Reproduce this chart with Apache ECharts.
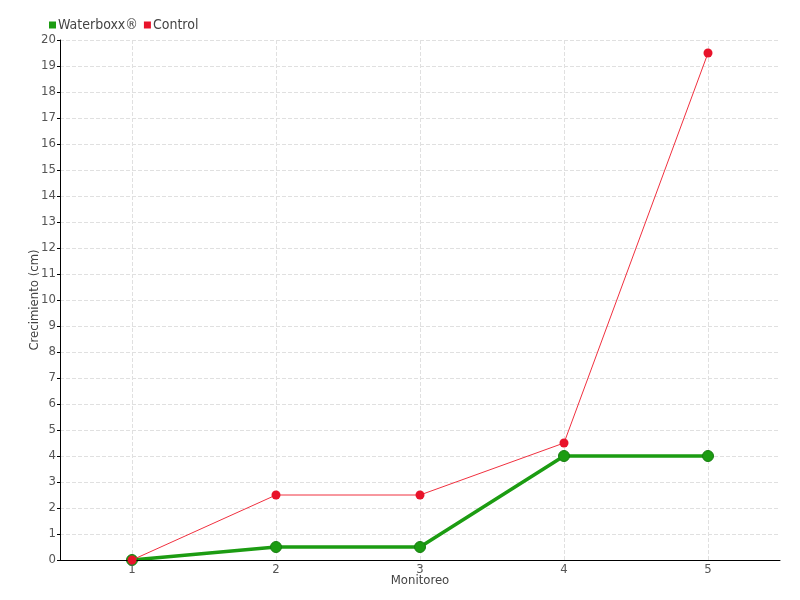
<!DOCTYPE html>
<html><head><meta charset="utf-8">
<script src="https://cdn.jsdelivr.net/npm/echarts@6/dist/echarts.min.js"></script>
<style>html,body{margin:0;padding:0;background:#fff}#c{width:800px;height:600px}</style>
</head><body><div id="c"></div>
<script>
const categories = ['1','2','3','4','5'];
const waterboxx = [0, 0.5, 0.5, 4, 4];
const control = [0, 2.5, 2.5, 4.5, 19.5];
const FONT = "'DejaVu Sans', sans-serif";
const FS = 'condensed';
const helperCats = [];
categories.forEach(function (c) { helperCats.push(''); helperCats.push(c); });
helperCats.push('');
const chart = echarts.init(document.getElementById('c'));
chart.setOption({
  animation: false,
  textStyle: {fontFamily: FONT},
  legend: {
    left: 44, top: 13, itemWidth: 7, itemHeight: 7, itemGap: 6,
    icon: 'rect',
    itemStyle: {borderWidth: 0},
    textStyle: {fontFamily: FONT, fontStyle: FS, fontSize: 14, color: '#444', padding: [0,0,0,-3]},
    data: ['Waterboxx®', 'Control']
  },
  grid: {left: 60, right: 20, top: 40, bottom: 40, containLabel: false},
  xAxis: [{
    type: 'category', data: categories, boundaryGap: true,
    name: 'Monitoreo', nameLocation: 'middle', nameGap: 14, nameMoveOverlap: false,
    nameTextStyle: {fontFamily: FONT, fontStyle: FS, fontSize: 13, color: '#444'},
    axisLine: {lineStyle: {color: '#000', width: 1}},
    axisTick: {alignWithLabel: true, length: 5, lineStyle: {color: '#000'}},
    axisLabel: {fontFamily: FONT, fontStyle: FS, fontSize: 13, color: '#555', margin: 3},
    splitLine: {show: false},
    z: 3
  }, {
    type: 'category', data: helperCats, boundaryGap: false, position: 'bottom',
    axisLine: {show: false}, axisTick: {show: false}, axisLabel: {show: false},
    splitLine: {show: true, interval: function (i) { return i % 2 === 1; },
      lineStyle: {type: 'dashed', color: '#e0e0e0'}}
  }],
  yAxis: {
    type: 'value', min: 0, max: 20, interval: 1,
    name: 'Crecimiento (cm)', nameLocation: 'middle', nameGap: 19, nameMoveOverlap: false,
    nameTextStyle: {fontFamily: FONT, fontStyle: FS, fontSize: 13, color: '#444'},
    axisLine: {show: true, lineStyle: {color: '#000', width: 1}},
    axisTick: {show: true, length: 3, lineStyle: {color: '#000'}},
    axisLabel: {fontFamily: FONT, fontStyle: FS, fontSize: 13, color: '#555', margin: 4},
    splitLine: {show: true, lineStyle: {type: 'dashed', color: '#e0e0e0'}}
  },
  series: [
    {
      name: 'Waterboxx®', type: 'line', data: waterboxx, xAxisIndex: 0,
      symbol: 'circle', symbolSize: 11,
      lineStyle: {color: '#1c9c12', width: 3.5},
      itemStyle: {color: '#1c9c12', borderColor: '#177e10', borderWidth: 1},
      z: 2
    },
    {
      name: 'Control', type: 'line', data: control, xAxisIndex: 0,
      symbol: 'circle', symbolSize: 9,
      lineStyle: {color: '#f0303f', width: 1},
      itemStyle: {color: '#e8132a'},
      z: 3
    }
  ]
});
</script></body></html>
